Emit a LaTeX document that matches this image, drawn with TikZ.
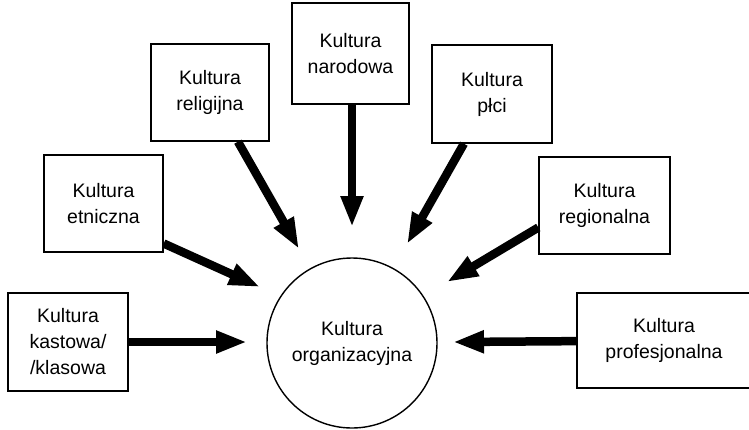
\documentclass[tikz,border=0pt]{standalone}
\usepackage{fontspec}
\setmainfont{Liberation Sans}
\usetikzlibrary{arrows.meta}
\begin{document}
\begin{tikzpicture}[x=1pt,y=-1pt,
  box/.style={draw, line width=1.4pt, inner sep=0pt, align=center,
    font=\fontsize{19.5}{26}\selectfont},
  arr/.style={line width=8.5pt, -{Triangle[length=31pt,width=21pt]}}]
\useasboundingbox (0,0) rectangle (749,429);
\clip (0,0) rectangle (749,429);
\node[box, minimum width=120pt, minimum height=98pt] (kast) at (68,342) {Kultura\\kastowa/\\/klasowa};
\node[box, minimum width=119pt, minimum height=97pt] (etn) at (103.5,203.5) {Kultura\\etniczna};
\node[box, minimum width=118pt, minimum height=97pt] (rel) at (210,92.5) {Kultura\\religijna};
\node[box, minimum width=117pt, minimum height=101pt] (nar) at (350.5,53.5) {Kultura\\narodowa};
\node[box, minimum width=120pt, minimum height=98pt] (plc) at (492,94) {Kultura\\płci};
\node[box, minimum width=131pt, minimum height=97pt] (reg) at (604.5,205.5) {Kultura\\regionalna};
\node[box, minimum width=182pt, minimum height=95pt, text width=174pt] (prof) at (668,340.5) {\hspace*{-8pt}Kultura\\\hspace*{-8pt}profesjonalna};
\node[box, circle, minimum size=170pt] (org) at (352,343) {Kultura\\organizacyjna};
\coordinate (tK) at (247,342);
\coordinate (tE) at (260,287);
\coordinate (tR) at (299,249);
\coordinate (tN) at (352,227);
\coordinate (tP) at (407,244);
\coordinate (tG) at (447,282);
\coordinate (tF) at (453,342);
\draw[arr] (kast) -- (tK);
\draw[arr] ([yshift=-40pt]etn.east) -- (tE);
\draw[arr] (rel) -- (tR);
\draw[arr] (nar.south -| tN) -- (tN);
\draw[arr] (plc) -- (tP);
\draw[arr] ([yshift=-22pt]reg.west) -- (tG);
\draw[arr] (prof) -- (tF);
\end{tikzpicture}
\end{document}
